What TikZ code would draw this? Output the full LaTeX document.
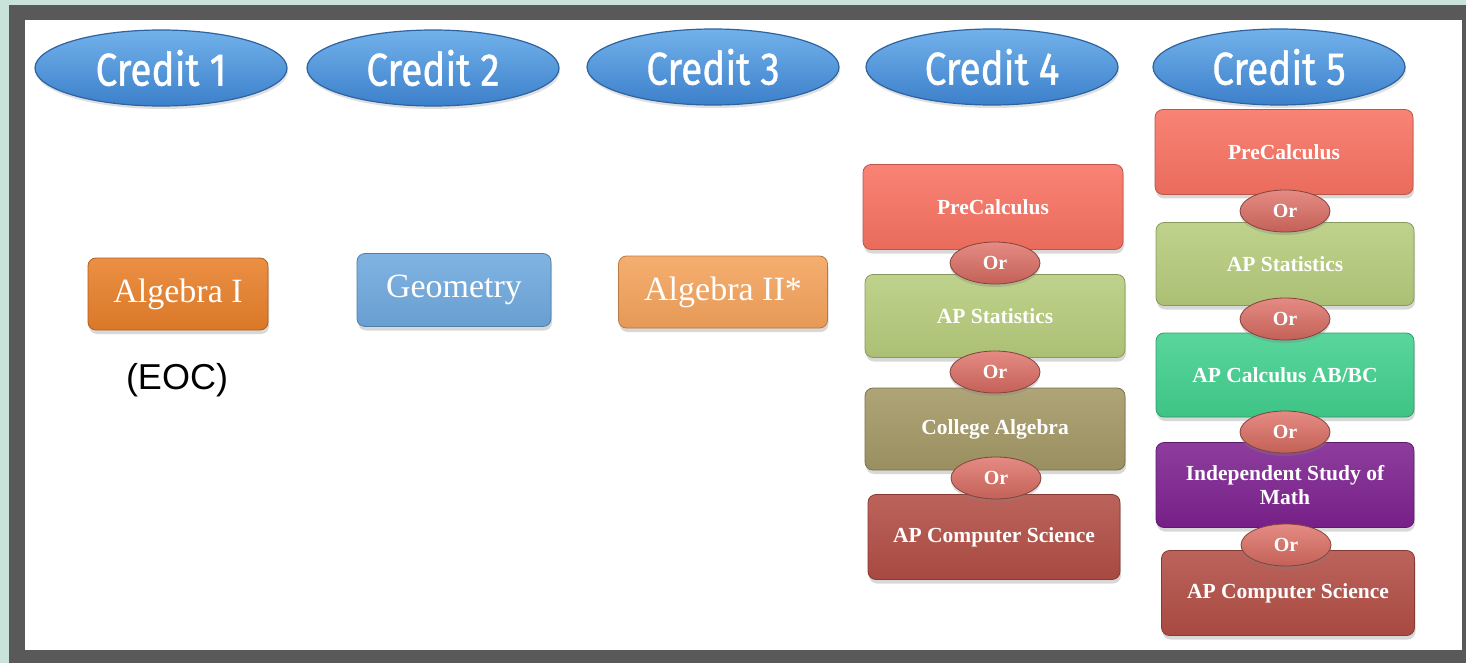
\documentclass[tikz,border=0pt]{standalone}
\usepackage{fontspec}
\setmainfont{Liberation Serif}
\newfontfamily\creditfont[FakeBold=1]{Fira Sans}
\newfontfamily\arialfont{Liberation Sans}
\usetikzlibrary{shapes.geometric,shadows}
\definecolor{frame}{HTML}{595959}
\definecolor{bgteal}{HTML}{C9E2DA}
\definecolor{credtop}{HTML}{72B1EA}
\definecolor{credbot}{HTML}{3C80CB}
\definecolor{credline}{HTML}{2D63A0}
\definecolor{algI}{HTML}{E8802A}
\definecolor{geom}{HTML}{6FA9DE}
\definecolor{algII}{HTML}{F4A35C}
\definecolor{precalc}{HTML}{F87262}
\definecolor{apstat}{HTML}{B6CC7C}
\definecolor{colalg}{HTML}{A39865}
\definecolor{apcs}{HTML}{B24E45}
\definecolor{apcalc}{HTML}{42D08E}
\definecolor{indep}{HTML}{7E2290}
\definecolor{orcol}{HTML}{DE6E64}
\begin{document}
\begin{tikzpicture}[x=1pt,y=-1pt,
  credit/.style={ellipse, minimum width=252pt, minimum height=76pt, inner sep=0pt,
    top color=credtop, bottom color=credbot, draw=credline, line width=1.2pt,
    drop shadow={shadow xshift=1pt, shadow yshift=-3pt, opacity=0.25},
    text=white, font=\creditfont\fontsize{46}{46}\selectfont},
  course/.style={rounded corners=8pt, inner sep=2pt, align=center,
    top color=#1!88!white, bottom color=#1!94!black, draw=#1!75!black, line width=0.8pt,
    drop shadow={shadow xshift=1pt, shadow yshift=-4pt, opacity=0.3},
    text=white, font=\bfseries\fontsize{21.5}{24}\selectfont},
  bigcourse/.style={course=#1, font=\fontsize{34}{38}\selectfont},
  orbub/.style={ellipse, minimum width=90pt, minimum height=42pt, inner sep=0pt,
    top color=orcol!80!white, bottom color=orcol!88!black, draw=orcol!60!black, line width=0.8pt,
    drop shadow={shadow xshift=0pt, shadow yshift=-3pt, opacity=0.3},
    text=white, font=\bfseries\fontsize{20}{23}\selectfont}
]
\useasboundingbox (0,0) rectangle (1466,663);
% background and frame
\fill[bgteal] (0,0) rectangle (1466,663);
\fill[frame] (9,5) rectangle (1466,663);
\fill[white] (25,20) rectangle (1462,650);

% header ellipses
\node[credit] (c1) at (161,68) {\scalebox{0.84}[1]{Credit 1}};
\node[credit] (c2) at (433,68) {\scalebox{0.84}[1]{Credit 2}};
\node[credit] (c3) at (713,67) {\scalebox{0.84}[1]{Credit 3}};
\node[credit] (c4) at (992,67) {\scalebox{0.84}[1]{Credit 4}};
\node[credit] (c5) at (1279,67) {\scalebox{0.84}[1]{Credit 5}};

% single courses
\node[bigcourse=algI, minimum width=180pt, minimum height=72pt] (alg1) at (178,294) {Algebra I};
\node[bigcourse=geom, minimum width=194pt, minimum height=73pt] (geo) at (454,290) {Geometry};
\node[bigcourse=algII, minimum width=209pt, minimum height=72pt] (alg2) at (723,292) {Algebra II*};
\node[font=\arialfont\fontsize{36}{40}\selectfont] (eoc) at (177,380) {(EOC)};

% credit 4 column
\node[course=precalc, minimum width=260pt, minimum height=85pt] (p4) at (993,207) {PreCalculus};
\node[course=apstat, minimum width=260pt, minimum height=83pt] (s4) at (995,316) {AP Statistics};
\node[course=colalg, minimum width=260pt, minimum height=82pt] (ca4) at (995,429) {College Algebra};
\node[course=apcs, minimum width=252pt, minimum height=85pt] (cs4) at (994,537) {AP Computer Science};
\node[orbub] (o41) at (995,263) {Or};
\node[orbub] (o42) at (995,372) {Or};
\node[orbub] (o43) at (996,478) {Or};

% credit 5 column
\node[course=precalc, minimum width=258pt, minimum height=85pt] (p5) at (1284,152) {PreCalculus};
\node[course=apstat, minimum width=258pt, minimum height=83pt] (s5) at (1285,264) {AP Statistics};
\node[course=apcalc, minimum width=258pt, minimum height=84pt] (cl5) at (1285,375) {AP Calculus AB/BC};
\node[course=indep, minimum width=258pt, minimum height=85pt] (in5) at (1285,485) {Independent Study of\\Math};
\node[course=apcs, minimum width=253pt, minimum height=85pt] (cs5) at (1288,593) {AP Computer Science};
\node[orbub] (o51) at (1285,211) {Or};
\node[orbub] (o52) at (1285,319) {Or};
\node[orbub] (o53) at (1285,432) {Or};
\node[orbub] (o54) at (1286,545) {Or};
\end{tikzpicture}
\end{document}
